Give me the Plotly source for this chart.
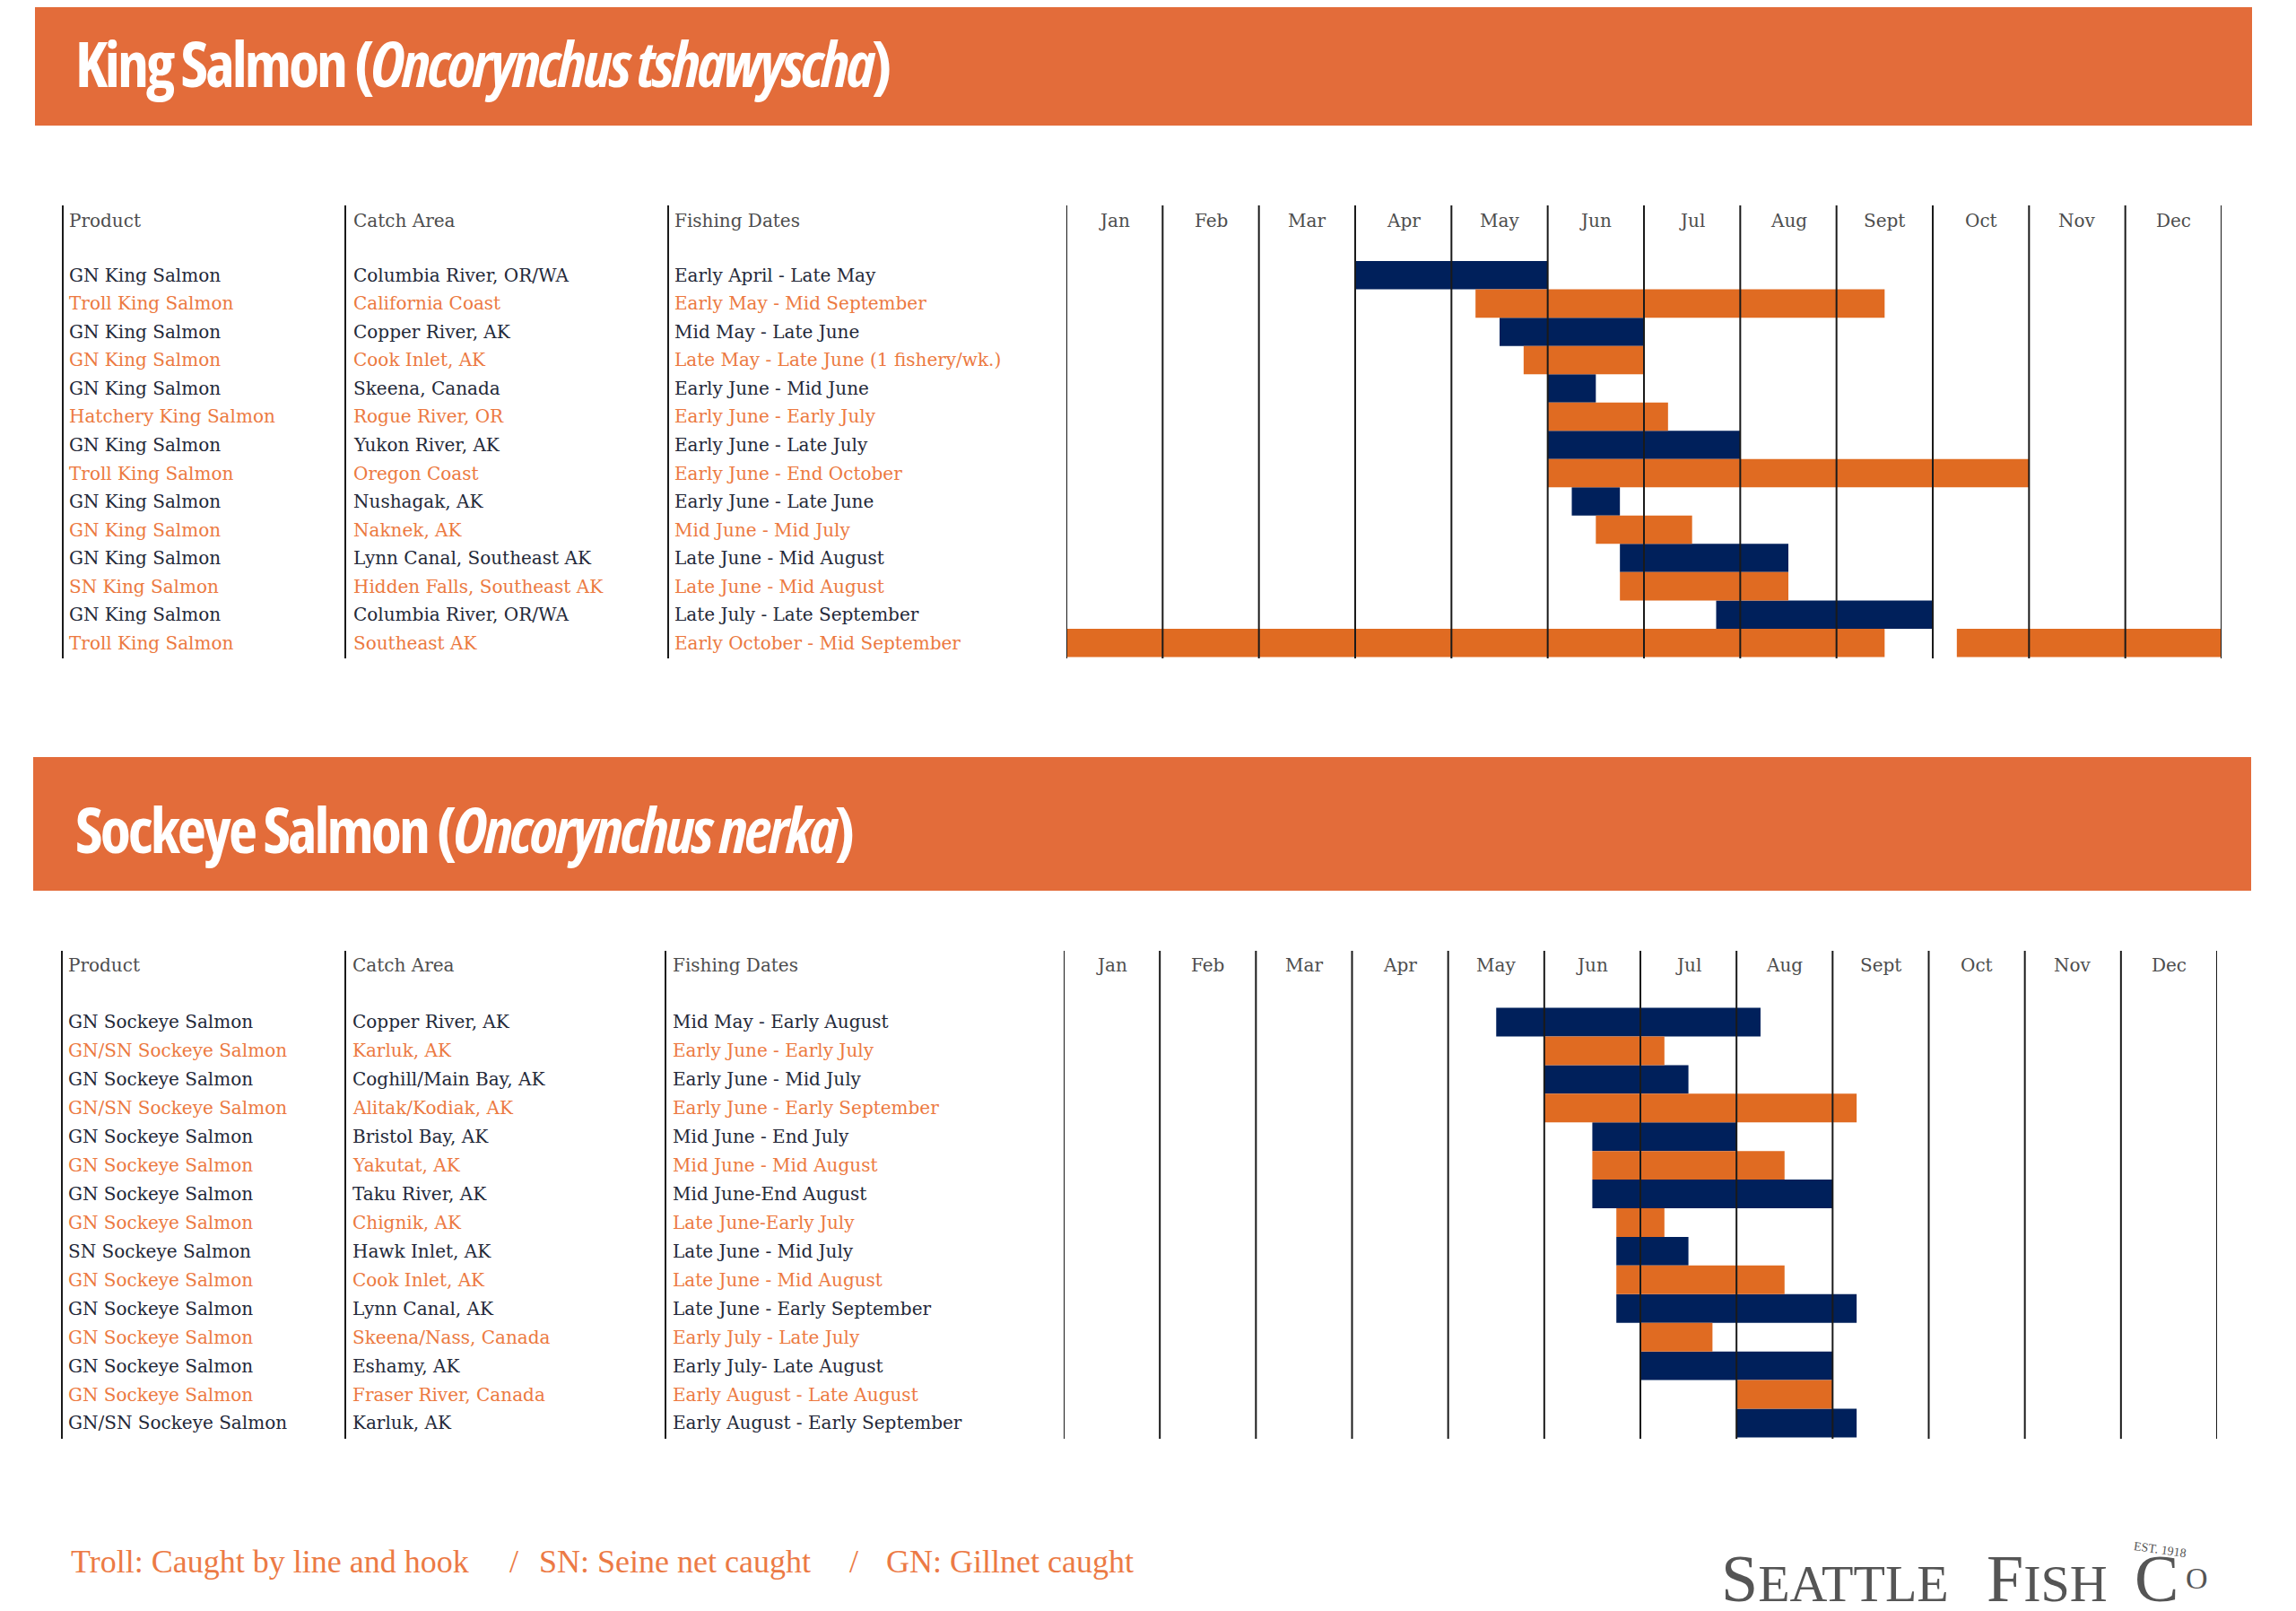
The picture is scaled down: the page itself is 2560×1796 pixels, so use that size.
import plotly.graph_objects as go

# ---------------- data ----------------
months = ["Jan", "Feb", "Mar", "Apr", "May", "Jun", "Jul", "Aug", "Sept", "Oct", "Nov", "Dec"]
col_headers = ["Product", "Catch Area", "Fishing Dates"]

king_products = ["GN King Salmon", "Troll King Salmon", "GN King Salmon", "GN King Salmon",
                 "GN King Salmon", "Hatchery King Salmon", "GN King Salmon", "Troll King Salmon",
                 "GN King Salmon", "GN King Salmon", "GN King Salmon", "SN King Salmon",
                 "GN King Salmon", "Troll King Salmon"]
king_areas = ["Columbia River, OR/WA", "California Coast", "Copper River, AK", "Cook Inlet, AK",
              "Skeena, Canada", "Rogue River, OR", "Yukon River, AK", "Oregon Coast",
              "Nushagak, AK", "Naknek, AK", "Lynn Canal, Southeast AK", "Hidden Falls, Southeast AK",
              "Columbia River, OR/WA", "Southeast AK"]
king_dates = ["Early April - Late May", "Early May - Mid September", "Mid May - Late June",
              "Late May - Late June (1 fishery/wk.)", "Early June - Mid June", "Early June - Early July",
              "Early June - Late July", "Early June - End October", "Early June - Late June",
              "Mid June - Mid July", "Late June - Mid August", "Late June - Mid August",
              "Late July - Late September", "Early October - Mid September"]
# season in months from Jan 1 (start may be after end when the season wraps the year)
king_start = [3.0, 4.25, 4.5, 4.75, 5.0, 5.0, 5.0, 5.0, 5.25, 5.5, 5.75, 5.75, 6.75, 9.25]
king_end = [5.0, 8.5, 6.0, 6.0, 5.5, 6.25, 7.0, 10.0, 5.75, 6.5, 7.5, 7.5, 9.0, 8.5]

sock_products = ["GN Sockeye Salmon", "GN/SN Sockeye Salmon", "GN Sockeye Salmon", "GN/SN Sockeye Salmon",
                 "GN Sockeye Salmon", "GN Sockeye Salmon", "GN Sockeye Salmon", "GN Sockeye Salmon",
                 "SN Sockeye Salmon", "GN Sockeye Salmon", "GN Sockeye Salmon", "GN Sockeye Salmon",
                 "GN Sockeye Salmon", "GN Sockeye Salmon", "GN/SN Sockeye Salmon"]
sock_areas = ["Copper River, AK", "Karluk, AK", "Coghill/Main Bay, AK", "Alitak/Kodiak, AK",
              "Bristol Bay, AK", "Yakutat, AK", "Taku River, AK", "Chignik, AK", "Hawk Inlet, AK",
              "Cook Inlet, AK", "Lynn Canal, AK", "Skeena/Nass, Canada", "Eshamy, AK",
              "Fraser River, Canada", "Karluk, AK"]
sock_dates = ["Mid May - Early August", "Early June - Early July", "Early June - Mid July",
              "Early June - Early September", "Mid June - End July", "Mid June - Mid August",
              "Mid June-End August", "Late June-Early July", "Late June - Mid July",
              "Late June - Mid August", "Late June - Early September", "Early July - Late July",
              "Early July- Late August", "Early August - Late August", "Early August - Early September"]
sock_start = [4.5, 5.0, 5.0, 5.0, 5.5, 5.5, 5.5, 5.75, 5.75, 5.75, 5.75, 6.0, 6.0, 7.0, 7.0]
sock_end = [7.25, 6.25, 6.5, 8.25, 7.0, 7.5, 8.0, 6.25, 6.5, 7.5, 8.25, 6.75, 8.0, 8.0, 8.25]

king_title = "King Salmon (<i>Oncorynchus tshawyscha</i>)"
sock_title = "Sockeye Salmon (<i>Oncorynchus nerka</i>)"
legend_parts = ["Troll: Caught by line and hook", "/", "SN: Seine net caught", "/", "GN: Gillnet caught"]

# ---------------- style ----------------
W, H = 2560, 1796
OFF = 8  # page offset of the plot div
NAVY = "#00205B"
ORANGE = "#E06B22"
HEAD_ORANGE = "#E36C3A"
TXT_DARK = "#232838"
TXT_ORANGE = "#EC7940"
TXT_GRAY = "#4d4d4d"
GRID = "#1a1a1a"
SERIF = "DejaVu Serif, Liberation Serif, serif"
TITLE_FONT = "Open Sans, Roboto, sans-serif"
TITLE_STYLE = "font-stretch:condensed; letter-spacing:-3px"


def px(x):
    return (x - OFF) / W


def py(y):
    return 1 - (y - OFF) / H


fig = go.Figure()
shapes = []
annotations = []

sections = [
    dict(products=king_products, areas=king_areas, dates=king_dates, start=king_start, end=king_end,
         title=king_title, head=(39, 0, 2511, 140), xa="x", ya="y",
         xdom=(1189, 2477), ydom=(229, 734), top=-2.47, head_row=-1.92, title_mid=70,
         cols=(70, 385, 745), textx=(75, 392, 750)),
    dict(products=sock_products, areas=sock_areas, dates=sock_dates, start=sock_start, end=sock_end,
         title=sock_title, head=(37, 852, 2510, 993), xa="x2", ya="y2",
         xdom=(1186, 2472), ydom=(1060, 1604), top=-2.49, head_row=-1.99, title_mid=924,
         cols=(69, 385, 742), textx=(74, 391, 748)),
]

for si, s in enumerate(sections):
    n = len(s["products"])
    bottom = n - 0.5 + 0.05
    for parity, color in ((0, NAVY), (1, ORANGE)):
        rows, bases, lens = [], [], []
        for i in range(n):
            if i % 2 != parity:
                continue
            a, b = s["start"][i], s["end"][i]
            segs = [(a, b)] if b >= a else [(a, 12.0), (0.0, b)]
            for (u, v) in segs:
                rows.append(i)
                bases.append(u)
                lens.append(v - u)
        fig.add_trace(go.Bar(y=rows, x=lens, base=bases, orientation="h", width=1,
                             marker=dict(color=color, line=dict(width=0)),
                             xaxis=s["xa"], yaxis=s["ya"], hoverinfo="skip", showlegend=False))
    gx, gy = [], []
    for m in range(13):
        gx += [m, m, None]
        gy += [s["top"], bottom, None]
    fig.add_trace(go.Scatter(x=gx, y=gy, mode="lines", line=dict(color=GRID, width=2),
                             xaxis=s["xa"], yaxis=s["ya"], hoverinfo="skip", showlegend=False))
    for m, lab in enumerate(months):
        annotations.append(dict(x=m + 0.5, y=s["head_row"], xref=s["xa"], yref=s["ya"], text=lab,
                                showarrow=False, xanchor="center", yanchor="middle",
                                font=dict(family=SERIF, size=20, color=TXT_GRAY)))
    for cx in s["cols"]:
        shapes.append(dict(type="line", xref="paper", yref="paper", x0=px(cx), x1=px(cx),
                           y0=py(s["ydom"][0]), y1=py(s["ydom"][1]),
                           line=dict(color=GRID, width=2)))
    for tx, lab in zip(s["textx"], col_headers):
        annotations.append(dict(x=px(tx), y=s["head_row"], xref="paper", yref=s["ya"], text=lab,
                                showarrow=False, xanchor="left", yanchor="middle",
                                font=dict(family=SERIF, size=20, color=TXT_GRAY)))
    for i in range(n):
        c = TXT_DARK if i % 2 == 0 else TXT_ORANGE
        for tx, lab in zip(s["textx"], (s["products"][i], s["areas"][i], s["dates"][i])):
            annotations.append(dict(x=px(tx), y=i, xref="paper", yref=s["ya"], text=lab,
                                    showarrow=False, xanchor="left", yanchor="middle",
                                    font=dict(family=SERIF, size=20, color=c)))
    hx0, hy0, hx1, hy1 = s["head"]
    shapes.append(dict(type="rect", xref="paper", yref="paper", x0=px(hx0), x1=px(hx1),
                       y0=py(hy1), y1=py(hy0 - OFF), fillcolor=HEAD_ORANGE, line=dict(width=0),
                       layer="below"))
    annotations.append(dict(x=px(82), y=py(s["title_mid"]), xref="paper", yref="paper",
                            text=f"<span style='{TITLE_STYLE}'>{s['title']}</span>",
                            showarrow=False, xanchor="left", yanchor="middle",
                            font=dict(family=TITLE_FONT, size=70, color="white", weight="bold")))

    fig.update_layout(**{
        ("xaxis" if si == 0 else "xaxis2"): dict(domain=[px(s["xdom"][0]), px(s["xdom"][1])],
                                                 range=[0, 12], visible=False, fixedrange=True,
                                                 anchor=s["ya"]),
        ("yaxis" if si == 0 else "yaxis2"): dict(domain=[py(s["ydom"][1]), py(s["ydom"][0])],
                                                 range=[bottom, s["top"]], visible=False,
                                                 fixedrange=True, anchor=s["xa"]),
    })

for xpos, part in zip((77, 566, 599, 945, 986), legend_parts):
    annotations.append(dict(x=px(xpos), y=py(1741), xref="paper", yref="paper", text=part,
                            showarrow=False, xanchor="left", yanchor="middle",
                            font=dict(family="Liberation Serif, serif", size=36, color="#EC7A45")))

LOGO = "#555555"
LOGO_FONT = "Liberation Serif, serif"
for xpos, word in ((1917, "S<span style='font-size:58px'>EATTLE</span>"),
                   (2213, "F<span style='font-size:58px'>ISH</span>"),
                   (2378, "C")):
    annotations.append(dict(x=px(xpos), y=py(1803), xref="paper", yref="paper", text=word,
                            showarrow=False, xanchor="left", yanchor="bottom",
                            font=dict(family=LOGO_FONT, size=74, color=LOGO)))
annotations.append(dict(x=px(2449), y=py(1759), xref="paper", yref="paper", text="O",
                        showarrow=False, xanchor="center", yanchor="middle",
                        font=dict(family=LOGO_FONT, size=34, color=LOGO)))
annotations.append(dict(x=px(2408), y=py(1727), xref="paper", yref="paper", text="EST. 1918",
                        showarrow=False, xanchor="center", yanchor="middle", textangle=8,
                        font=dict(family=LOGO_FONT, size=14, color=LOGO)))

fig.update_layout(width=W, height=H, margin=dict(l=0, r=0, t=0, b=0, pad=0),
                  paper_bgcolor="white", plot_bgcolor="rgba(0,0,0,0)", showlegend=False,
                  barmode="overlay", shapes=shapes, annotations=annotations)

fig.write_html("out.html")
